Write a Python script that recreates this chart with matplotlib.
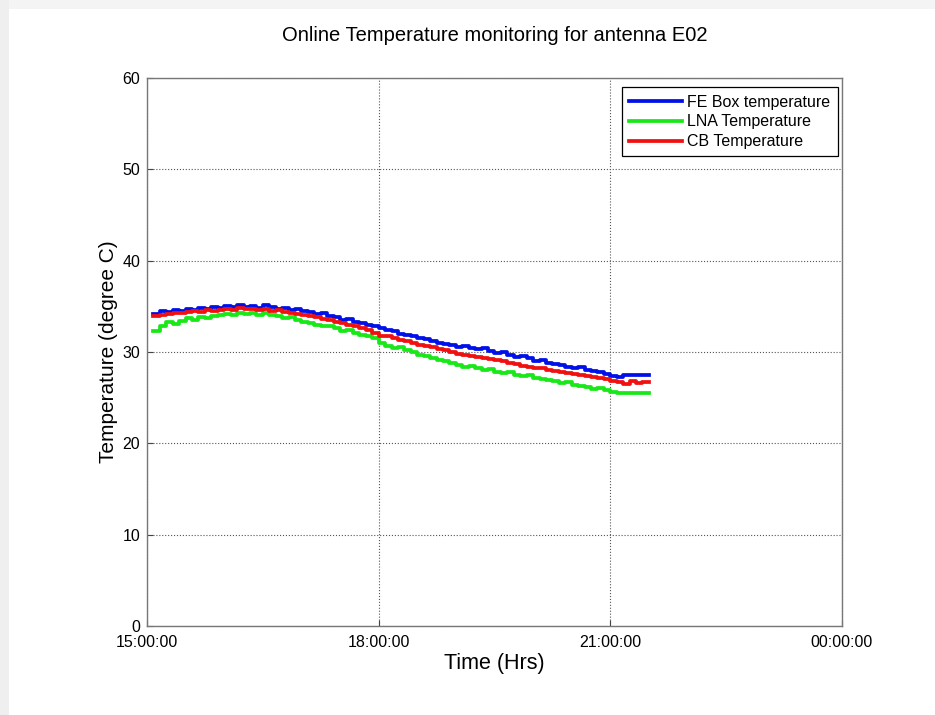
import numpy as np
import matplotlib
matplotlib.use('Agg')
import matplotlib.pyplot as plt
from matplotlib.patches import Rectangle

plt.rcParams['font.family'] = ['Liberation Sans', 'DejaVu Sans']

# sample times (5 minute readings)
times = [
    '15:05', '15:10', '15:15', '15:20', '15:25', '15:30', '15:35', '15:40', '15:45', '15:50', '15:55',
    '16:00', '16:05', '16:10', '16:15', '16:20', '16:25', '16:30', '16:35', '16:40', '16:45', '16:50', '16:55',
    '17:00', '17:05', '17:10', '17:15', '17:20', '17:25', '17:30', '17:35', '17:40', '17:45', '17:50', '17:55',
    '18:00', '18:05', '18:10', '18:15', '18:20', '18:25', '18:30', '18:35', '18:40', '18:45', '18:50', '18:55',
    '19:00', '19:05', '19:10', '19:15', '19:20', '19:25', '19:30', '19:35', '19:40', '19:45', '19:50', '19:55',
    '20:00', '20:05', '20:10', '20:15', '20:20', '20:25', '20:30', '20:35', '20:40', '20:45', '20:50', '20:55',
    '21:00', '21:05', '21:10', '21:15', '21:20', '21:25', '21:30',
]

fe_box = [
    34.2, 34.5, 34.4, 34.6, 34.5, 34.7, 34.6, 34.8, 34.7, 34.9, 34.8,
    35.0, 34.9, 35.1, 34.9, 35.0, 34.8, 35.1, 34.9, 34.7, 34.8, 34.6, 34.7,
    34.5, 34.4, 34.2, 34.3, 33.9, 33.8, 33.5, 33.6, 33.3, 33.2, 33.0, 32.8,
    32.6, 32.4, 32.3, 32.0, 31.9, 31.8, 31.5, 31.4, 31.2, 31.0, 30.9, 30.8,
    30.6, 30.7, 30.4, 30.3, 30.4, 30.1, 29.9, 30.0, 29.7, 29.5, 29.6, 29.3,
    29.0, 29.1, 28.8, 28.7, 28.6, 28.4, 28.3, 28.4, 28.0, 27.9, 27.8, 27.6,
    27.4, 27.3, 27.5, 27.5, 27.5, 27.5, 27.5,
]

lna = [
    32.3, 32.9, 33.3, 33.1, 33.4, 33.7, 33.5, 33.8, 33.7, 33.9, 34.0,
    34.2, 34.0, 34.3, 34.2, 34.3, 34.1, 34.3, 34.0, 33.9, 33.7, 33.8, 33.5,
    33.3, 33.2, 33.0, 32.8, 32.9, 32.6, 32.3, 32.4, 32.1, 31.9, 31.7, 31.5,
    31.0, 30.7, 30.4, 30.5, 30.2, 30.0, 29.7, 29.6, 29.3, 29.1, 29.0, 28.8,
    28.6, 28.4, 28.5, 28.2, 28.0, 28.1, 27.8, 27.7, 27.8, 27.5, 27.4, 27.5,
    27.2, 27.0, 26.9, 26.8, 26.6, 26.7, 26.4, 26.3, 26.2, 26.0, 26.1, 25.8,
    25.6, 25.5, 25.5, 25.5, 25.5, 25.5, 25.5,
]

cb = [
    33.9, 34.1, 34.2, 34.3, 34.3, 34.4, 34.5, 34.4, 34.6, 34.5, 34.6,
    34.7, 34.6, 34.8, 34.7, 34.7, 34.6, 34.7, 34.5, 34.6, 34.4, 34.3, 34.2,
    34.0, 33.9, 33.8, 33.6, 33.5, 33.3, 33.2, 33.0, 32.8, 32.6, 32.4, 32.1,
    31.8, 31.7, 31.5, 31.3, 31.2, 31.0, 30.8, 30.7, 30.5, 30.3, 30.2, 30.0,
    29.8, 29.7, 29.6, 29.5, 29.3, 29.2, 29.1, 29.0, 28.8, 28.7, 28.5, 28.4,
    28.3, 28.2, 28.0, 27.9, 27.8, 27.7, 27.6, 27.5, 27.4, 27.3, 27.1, 27.0,
    26.8, 26.7, 26.5, 26.8, 26.6, 26.7, np.nan,
]

x_ticks = [15, 18, 21, 24]
x_tick_labels = ['15:00:00', '18:00:00', '21:00:00', '00:00:00']
y_ticks = [0, 10, 20, 30, 40, 50, 60]


def to_hours(t):
    h, m = t.split(':')
    return int(h) + int(m) / 60.0


hours = [to_hours(t) for t in times]

fig = plt.figure(figsize=(9.35, 7.15), dpi=100)
fig.patch.set_facecolor('white')

# screenshot shadow at top/left edge
fig.patches.append(Rectangle((0, 0.988), 1, 0.012, transform=fig.transFigure,
                             facecolor='#f4f4f4', edgecolor='none', zorder=-1))
fig.patches.append(Rectangle((0, 0), 0.010, 1, transform=fig.transFigure,
                             facecolor='#efefef', edgecolor='none', zorder=-1))

ax = fig.add_axes([0.1572, 0.1245, 0.7433, 0.7664])

ax.plot(hours, fe_box, color='#0010e8', lw=2.7, drawstyle='steps-post', label='FE Box temperature')
ax.plot(hours, lna, color='#18e818', lw=2.7, drawstyle='steps-post', label='LNA Temperature')
ax.plot(hours, cb, color='#f01010', lw=2.7, drawstyle='steps-post', label='CB Temperature')

ax.set_xlim(15, 24)
ax.set_ylim(0, 60)
ax.set_xticks(x_ticks)
ax.set_xticklabels(x_tick_labels)
ax.set_yticks(y_ticks)
ax.tick_params(direction='in', length=4, labelsize=11.5, color='#444444')
ax.tick_params(axis='x', pad=6.5)
ax.tick_params(axis='y', pad=5)

ax.grid(True, linestyle=':', color='#555555', linewidth=0.8)
for s in ax.spines.values():
    s.set_color('#777777')
    s.set_linewidth(1.0)

ax.set_title('Online Temperature monitoring for antenna E02', fontsize=14.5, pad=27)
ax.set_xlabel('Time (Hrs)', fontsize=15.5, labelpad=2)
ax.set_ylabel('Temperature (degree C)', fontsize=15, labelpad=3)

leg = ax.legend(loc='upper right', bbox_to_anchor=(0.994, 0.983), borderaxespad=0,
                fontsize=11.5, fancybox=False, framealpha=1,
                edgecolor='black', handlelength=3.3, borderpad=0.45, labelspacing=0.3,
                handletextpad=0.35)
leg.get_frame().set_linewidth(0.9)

plt.savefig('out.png', dpi=100)
plt.close()
